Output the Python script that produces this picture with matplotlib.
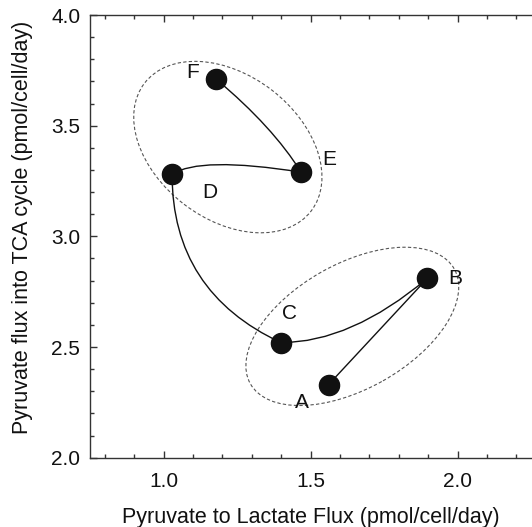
import matplotlib
matplotlib.use("Agg")
import matplotlib.pyplot as plt
import numpy as np
from matplotlib.patches import Ellipse
from matplotlib.ticker import MultipleLocator
import matplotlib.transforms as mtransforms

plt.rcParams['font.family'] = ['Liberation Sans', 'DejaVu Sans']

# 数据
labels = ['A', 'B', 'C', 'D', 'E', 'F']
lactate_flux = [1.561, 1.897, 1.399, 1.029, 1.468, 1.180]
tca_flux = [2.330, 2.810, 2.520, 3.280, 3.290, 3.709]

# 标签偏移 (points)
label_offsets = [(-19, -13), (20, 0), (6, 21), (27, -13), (20, 9), (-17, 5)]
# 各段曲线的切线角度 (angle3), None 为直线
segment_angles = [None, (40, 0), (155, 90), (34, -9), (122, -40)]
# 分组椭圆: 点的索引, 宽, 高 (inch), 角度, 中心偏移 (data)
groups = [([0, 1, 2], 2.34, 1.25, 29.4, (0.023, 0.04)),
          ([3, 4, 5], 2.10, 1.44, -37.5, (-0.007, -0.023))]

fig = plt.figure(figsize=(5.32, 5.27), dpi=100)
ax = fig.add_axes([0.1692, 0.1315, 0.8308, 0.84])

ax.set_xlim(0.75, 2.253)
ax.set_ylim(2.0, 4.0)

# 曲线连接
for i, ang in enumerate(segment_angles):
    p0 = (lactate_flux[i], tca_flux[i])
    p1 = (lactate_flux[i + 1], tca_flux[i + 1])
    if ang is None:
        ax.plot([p0[0], p1[0]], [p0[1], p1[1]], color='#111111', lw=1.0, zorder=2)
    else:
        ax.annotate('', xy=p1, xytext=p0,
                    arrowprops=dict(arrowstyle='-', color='#111111', lw=1.0,
                                    shrinkA=0, shrinkB=0,
                                    connectionstyle='angle3,angleA=%g,angleB=%g' % ang),
                    zorder=2)

ax.plot(lactate_flux, tca_flux, 'o', color='#111111', markersize=14.5, zorder=3)

for lab, x, y, off in zip(labels, lactate_flux, tca_flux, label_offsets):
    ax.annotate(lab, (x, y), xytext=off, textcoords='offset points',
                ha='center', va='center', fontsize=15, color='#111111')

# 虚线椭圆
for idx, w, h, angle, off in groups:
    cx = np.mean([lactate_flux[k] for k in idx]) + off[0]
    cy = np.mean([tca_flux[k] for k in idx]) + off[1]
    tr = fig.dpi_scale_trans + mtransforms.ScaledTranslation(cx, cy, ax.transData)
    e = Ellipse((0, 0), w, h, angle=angle, transform=tr, fill=False,
                edgecolor='#555555', lw=0.8, linestyle=(0, (3, 2)))
    ax.add_patch(e)

# 坐标轴外观
ax.spines['right'].set_visible(False)
for s in ['left', 'top', 'bottom']:
    ax.spines[s].set_color('#333333')
    ax.spines[s].set_linewidth(1.0)

ax.xaxis.set_major_locator(MultipleLocator(0.5))
ax.xaxis.set_minor_locator(MultipleLocator(0.1))
ax.yaxis.set_major_locator(MultipleLocator(0.5))
ax.yaxis.set_minor_locator(MultipleLocator(0.1))
ax.xaxis.set_major_formatter(plt.FormatStrFormatter('%.1f'))
ax.yaxis.set_major_formatter(plt.FormatStrFormatter('%.1f'))
ax.tick_params(which='both', direction='in', top=True, right=False,
               color='#333333', labelsize=15, labelcolor='#111111')
ax.tick_params(which='major', length=5, width=1.0)
ax.tick_params(which='minor', length=3, width=1.0)
ax.tick_params(axis='x', which='major', pad=10)
ax.tick_params(axis='y', which='major', pad=7)

ax.set_xlabel('Pyruvate to Lactate Flux (pmol/cell/day)', fontsize=15.5,
              labelpad=12, color='#111111')
ax.set_ylabel('Pyruvate flux into TCA cycle (pmol/cell/day)', fontsize=15.5,
              color='#111111')
ax.yaxis.set_label_coords(-0.13, 0.52)

fig.savefig('out.png', dpi=100)
